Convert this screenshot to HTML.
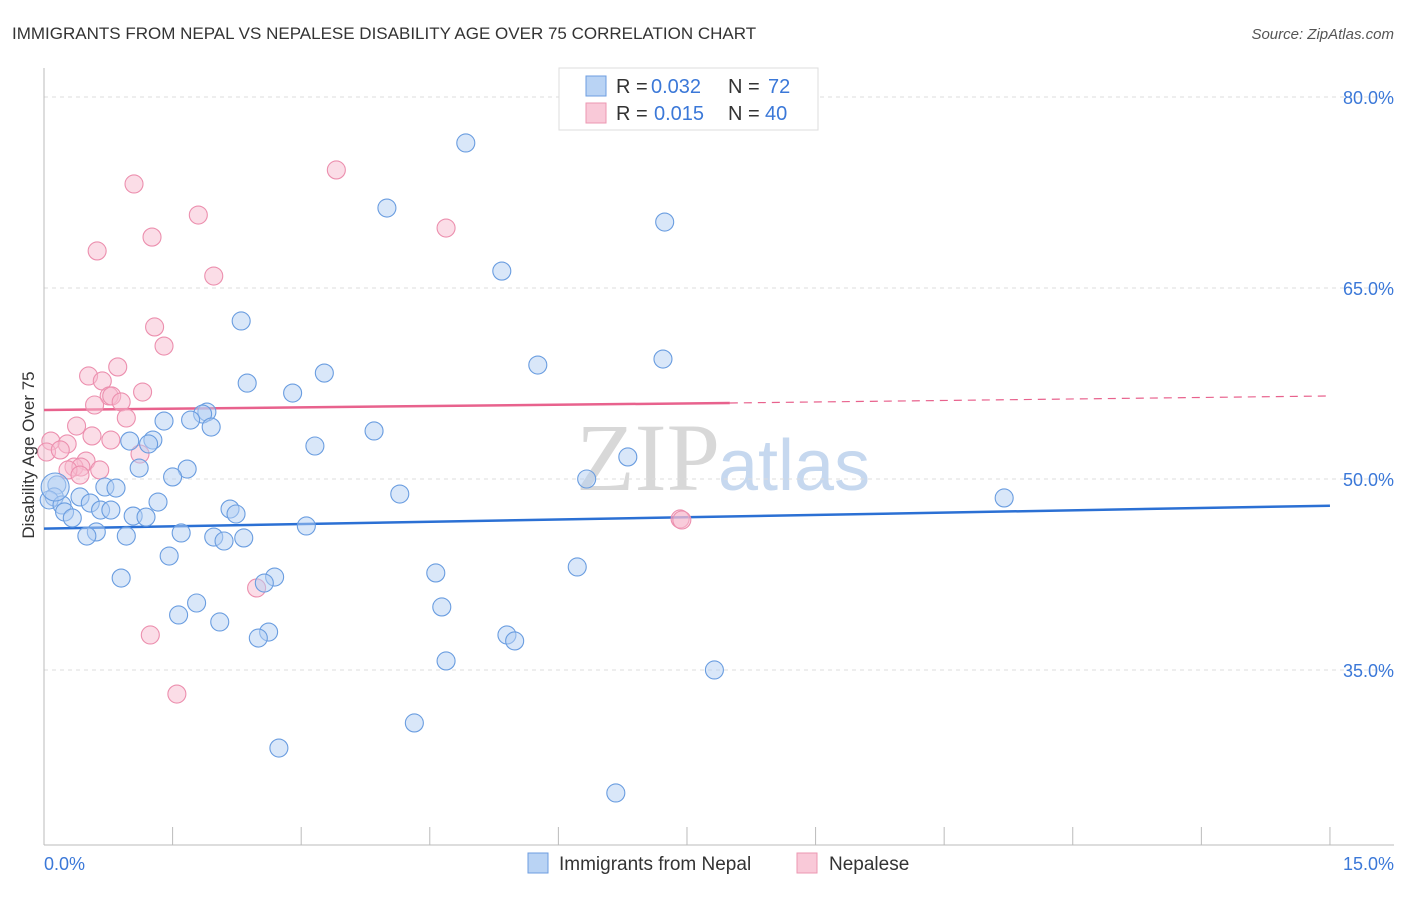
<!DOCTYPE html>
<html><head><meta charset="utf-8"><style>
body{margin:0;background:#fff;font-family:"Liberation Sans",sans-serif}
</style></head><body>
<svg id="c" width="1406" height="892" xmlns="http://www.w3.org/2000/svg">
<text x="12" y="39" font-size="17" fill="#333">IMMIGRANTS FROM NEPAL VS NEPALESE DISABILITY AGE OVER 75 CORRELATION CHART</text>
<text x="1394" y="39" font-size="15" fill="#555" font-style="italic" text-anchor="end">Source: ZipAtlas.com</text>
<text x="720" y="490" font-size="96" fill="#d8d8d8" text-anchor="end" font-family="Liberation Serif">ZIP</text>
<text x="718" y="490" font-size="72" fill="#c6d8ef">atlas</text>
<g id="grid"></g><g id="axes"></g><g id="lines"></g><g id="pts"></g>
<text x="34" y="455" font-size="17" fill="#333" text-anchor="middle" transform="rotate(-90 34 455)">Disability Age Over 75</text>
<text x="44" y="870" font-size="18" fill="#3b78d8">0.0%</text>
<text x="1394" y="870" font-size="18" fill="#3b78d8" text-anchor="end">15.0%</text>
<g>
<rect x="559" y="68" width="259" height="62" fill="#fff" stroke="#ddd"/>
<rect x="586" y="76" width="20" height="20" fill="#b9d3f4" stroke="#6d9ee0"/>
<rect x="586" y="103" width="20" height="20" fill="#f9c9d8" stroke="#ec97b2"/>
<text x="616" y="93" font-size="20" fill="#333">R =</text>
<text x="651" y="93" font-size="20" fill="#3b78d8">0.032</text>
<text x="728" y="93" font-size="20" fill="#333">N =</text>
<text x="768" y="93" font-size="20" fill="#3b78d8">72</text>
<text x="616" y="120" font-size="20" fill="#333">R =</text>
<text x="654" y="120" font-size="20" fill="#3b78d8">0.015</text>
<text x="728" y="120" font-size="20" fill="#333">N =</text>
<text x="765" y="120" font-size="20" fill="#3b78d8">40</text>
</g>
<g>
<rect x="528" y="853" width="20" height="20" fill="#b9d3f4" stroke="#6d9ee0"/>
<text x="559" y="870" font-size="19" fill="#333">Immigrants from Nepal</text>
<rect x="797" y="853" width="20" height="20" fill="#f9c9d8" stroke="#ec97b2"/>
<text x="829" y="870" font-size="19" fill="#333">Nepalese</text>
</g>
</svg>
<script>
const yTicks=[35,50,65,80];
const yTickLabels=["35.0%","50.0%","65.0%","80.0%"];
const xTicks=[0,1.5,3,4.5,6,7.5,9,10.5,12,13.5,15];
const blueX=[4.92,4.00,7.24,5.34,2.30,7.22,5.76,3.27,2.37,2.90,1.90,1.85,1.71,1.40,1.95,3.85,1.27,1.00,1.22,3.16,6.81,1.11,1.67,1.50,6.33,0.15,0.71,0.84,4.15,0.42,0.12,0.06,11.20,1.33,0.54,0.21,2.17,0.66,0.78,2.24,0.24,1.04,1.19,0.33,3.06,1.60,0.61,0.50,0.96,1.98,2.10,2.33,1.46,6.22,4.57,0.90,2.69,2.57,4.64,1.78,1.57,2.05,2.62,5.40,2.50,5.49,4.69,7.82,4.32,2.74,6.67,0.13];
const blueY=[76.39,71.28,70.18,66.33,62.41,59.42,58.95,58.32,57.53,56.75,55.26,55.10,54.63,54.55,54.08,53.77,53.06,52.98,52.75,52.59,51.73,50.86,50.78,50.16,50.0,49.53,49.37,49.29,48.82,48.59,48.59,48.35,48.51,48.19,48.11,47.96,47.64,47.56,47.56,47.25,47.41,47.09,47.01,46.94,46.31,45.76,45.84,45.52,45.52,45.44,45.13,45.37,43.95,43.09,42.62,42.22,42.30,41.83,39.95,40.26,39.32,38.77,37.98,37.75,37.51,37.28,35.71,35.0,30.84,28.87,25.34,49.37];
const pinkX=[1.05,3.41,1.80,4.69,1.26,0.62,1.98,1.29,1.40,0.86,0.52,0.68,1.15,0.76,0.79,0.90,0.59,0.96,0.38,0.78,0.56,0.08,0.27,1.12,0.03,0.19,0.49,0.35,0.43,0.28,0.42,7.42,7.44,2.48,1.24,1.55,0.65];
const pinkY=[73.17,74.27,70.73,69.71,69.0,67.91,65.94,61.94,60.44,58.80,58.09,57.70,56.83,56.52,56.52,56.05,55.81,54.79,54.16,53.06,53.38,52.98,52.75,51.96,52.12,52.28,51.41,50.94,50.94,50.71,50.31,46.86,46.78,41.44,37.75,33.11,50.71];
const blueTrend=[46.1,47.9];
const pinkTrend=[55.42,55.97,56.52];
const pinkSolidEnd=8;

const X=v=>44+v*85.73, Y=v=>97+(80-v)*12.733;
const NS="http://www.w3.org/2000/svg";
function mk(p,t,a){const e=document.createElementNS(NS,t);for(const k in a)e.setAttribute(k,a[k]);document.getElementById(p).appendChild(e);return e;}
yTicks.forEach((t,i)=>{
 const l=mk('grid','line',{x1:44,x2:1394,y1:Y(t),y2:Y(t),stroke:'#ddd','stroke-dasharray':'4 4'});
 
 
 const tx=mk('grid','text',{x:1394,y:Y(t)+7,'font-size':18,fill:'#3b78d8','text-anchor':'end'});
 tx.textContent=yTickLabels[i];
 
 
});
const ax=mk('axes','line',{x1:44,x2:44,y1:68,y2:845,stroke:'#bbb'});


const bx=mk('axes','line',{x1:44,x2:1394,y1:845,y2:845,stroke:'#bbb'});


xTicks.forEach(t=>{
 const l=mk('axes','line',{x1:X(t),x2:X(t),y1:827,y2:845,stroke:'#bbb'});
 
 
});
function dots(xs,ys,fill,stroke,name){xs.forEach((x,i)=>{
 const big=(name==='nepal-point'&&i===xs.length-1);
 const c=mk('pts','circle',{cx:X(x),cy:Y(ys[i]),r:big?14:9,fill:fill,'fill-opacity':0.5,stroke:stroke,'stroke-width':1.1});
 
 
});}
dots(pinkX,pinkY,'#f7bccf','#ec8fae','nepalese-point');
dots(blueX,blueY,'#b3cff3','#6a9de0','nepal-point');
const bl=mk('lines','line',{x1:X(0),x2:X(15),y1:Y(blueTrend[0]),y2:Y(blueTrend[1]),stroke:'#2b70d4','stroke-width':2.5});


const pl=mk('lines','line',{x1:X(0),x2:X(pinkSolidEnd),y1:Y(pinkTrend[0]),y2:Y(pinkTrend[1]),stroke:'#e8628d','stroke-width':2.5});


const pd=mk('lines','line',{x1:X(pinkSolidEnd),x2:X(15),y1:Y(pinkTrend[1]),y2:Y(pinkTrend[2]),stroke:'#e8628d','stroke-width':1.2,'stroke-dasharray':'8 6'});


</script>
</body></html>
